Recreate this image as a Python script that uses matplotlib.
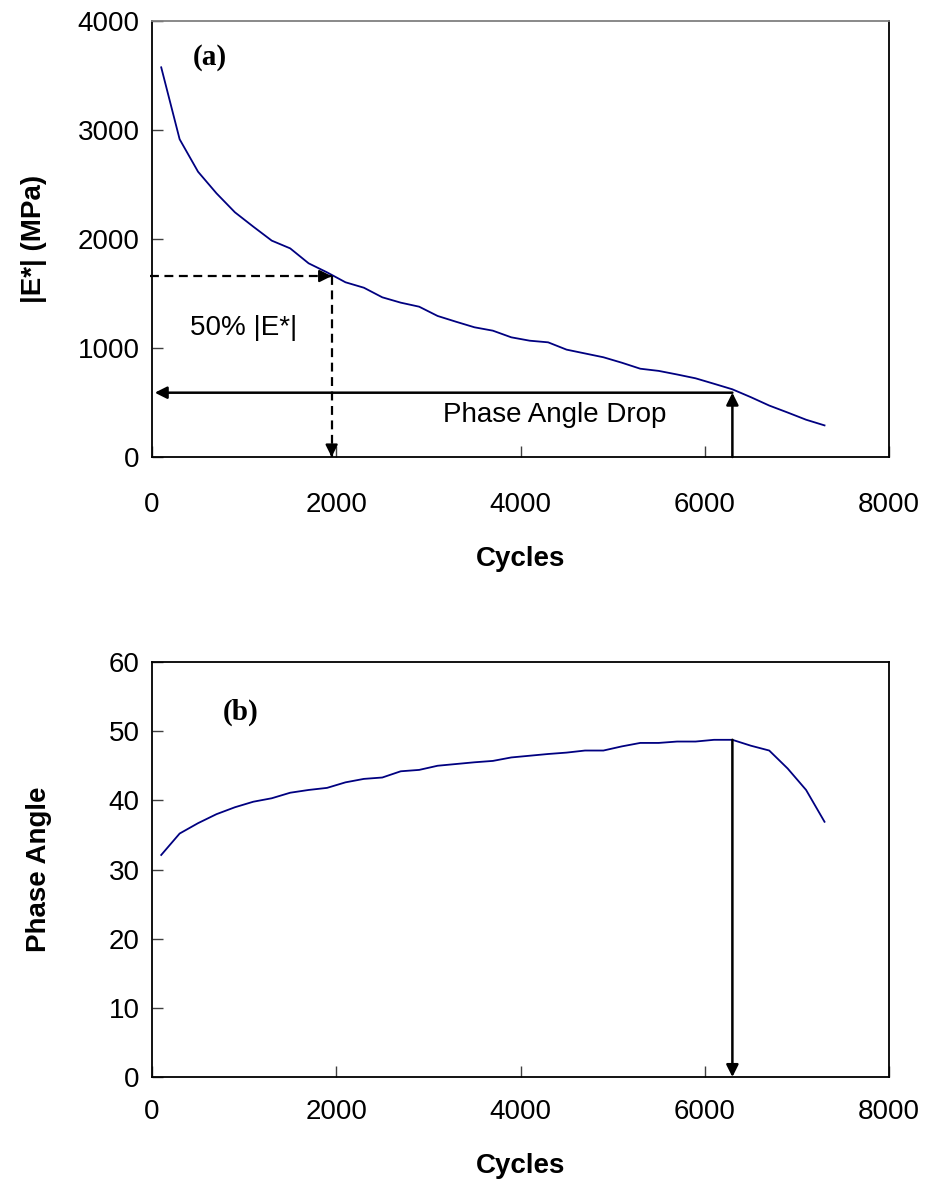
import matplotlib
matplotlib.use('Agg')
import matplotlib.pyplot as plt

plt.rcParams['font.family'] = ['Liberation Sans', 'DejaVu Sans']

# cycles at which modulus and phase angle were recorded
ciclos = [100, 300, 500, 700, 900, 1100, 1300, 1500, 1700, 1900,
          2100, 2300, 2500, 2700, 2900, 3100, 3300, 3500, 3700, 3900,
          4100, 4300, 4500, 4700, 4900, 5100, 5300, 5500, 5700, 5900,
          6100, 6300, 6500, 6700, 6900, 7100, 7300]

modulo = [3575, 2915, 2617, 2419, 2245, 2113, 1985, 1914, 1777, 1694,
          1603, 1553, 1465, 1416, 1379, 1294, 1241, 1190, 1159, 1098,
          1067, 1052, 985, 950, 915, 865, 810, 790, 757, 722,
          672, 621, 549, 472, 408, 342, 290]

fase = [32.1, 35.2, 36.7, 38.0, 39.0, 39.8, 40.3, 41.1, 41.5, 41.8,
        42.6, 43.1, 43.3, 44.2, 44.4, 45.0, 45.25, 45.5, 45.7, 46.2,
        46.45, 46.7, 46.9, 47.2, 47.2, 47.8, 48.3, 48.3, 48.5, 48.5,
        48.75, 48.75, 47.9, 47.2, 44.6, 41.5, 36.9]

# failure criteria
ciclo_50 = 1950
modulo_50 = 1660
ciclo_queda = 6300
modulo_queda = 590
fase_pico = 48.75

azul = '#000080'
fs = 20

fig = plt.figure(figsize=(9.27, 11.84), dpi=100)
ax1 = fig.add_axes([152/927, 1 - 457/1184, 737/927, 436/1184])
ax2 = fig.add_axes([152/927, 1 - 1077/1184, 737/927, 415/1184])

def estilo(ax, xpad):
    ax.set_xlim(0, 8000)
    ax.set_xticks([0, 2000, 4000, 6000, 8000])
    ax.tick_params(axis='both', direction='in', length=8, width=1, color='#404040', labelsize=fs)
    ax.tick_params(axis='x', pad=xpad)
    ax.tick_params(axis='y', pad=9)
    for s in ax.spines.values():
        s.set_linewidth(1.3)
        s.set_color('black')
    ax.set_xlabel('Cycles', fontsize=fs, fontweight='bold', labelpad=20)

def seta(ax, xy, xytext, dashed=False):
    if dashed:
        ax.plot([xytext[0], xy[0]], [xytext[1], xy[1]], color='black', lw=1.6,
                ls=(0, (4, 2.5)), clip_on=False)
        dx = (xy[0] - xytext[0]) * 0.02
        dy = (xy[1] - xytext[1]) * 0.02
        ax.annotate('', xy=xy, xytext=(xy[0] - dx, xy[1] - dy),
                    arrowprops=dict(arrowstyle='-|>', color='black', lw=1.6,
                                    shrinkA=0, shrinkB=0, mutation_scale=18))
    else:
        ax.annotate('', xy=xy, xytext=xytext,
                    arrowprops=dict(arrowstyle='-|>', color='black', lw=1.8,
                                    shrinkA=0, shrinkB=0, mutation_scale=18))

# (a) dynamic modulus
ax1.plot(ciclos, modulo, color=azul, lw=1.3)
ax1.set_ylim(0, 4000)
ax1.set_yticks([0, 1000, 2000, 3000, 4000])
estilo(ax1, 25)
ax1.spines['top'].set_color('#808080')
ax1.set_ylabel('|E*| (MPa)', fontsize=fs, fontweight='bold', labelpad=22)
ax1.text(445, 3665, '(a)', fontsize=21, fontweight='bold', family='Liberation Serif',
         ha='left', va='center')
seta(ax1, (ciclo_50, modulo_50), (-20, modulo_50), dashed=True)
seta(ax1, (ciclo_50, 0), (ciclo_50, modulo_50), dashed=True)
ax1.text(413, 1119, '50% |E*|', fontsize=fs, ha='left', va='baseline')
seta(ax1, (ciclo_queda, modulo_queda), (ciclo_queda, 0))
seta(ax1, (30, modulo_queda), (ciclo_queda, modulo_queda))
ax1.text(4376, 321, 'Phase Angle Drop', fontsize=fs, ha='center', va='baseline')

# (b) phase angle
ax2.plot(ciclos, fase, color=azul, lw=1.3)
ax2.set_ylim(0, 60)
ax2.set_yticks([0, 10, 20, 30, 40, 50, 60])
estilo(ax2, 16)
ax2.set_ylabel('Phase Angle', fontsize=fs, fontweight='bold', labelpad=41)
ax2.text(768, 52.7, '(b)', fontsize=21, fontweight='bold', family='Liberation Serif',
         ha='left', va='center')
seta(ax2, (ciclo_queda, 0), (ciclo_queda, fase_pico))

fig.savefig('out.png', dpi=100)
